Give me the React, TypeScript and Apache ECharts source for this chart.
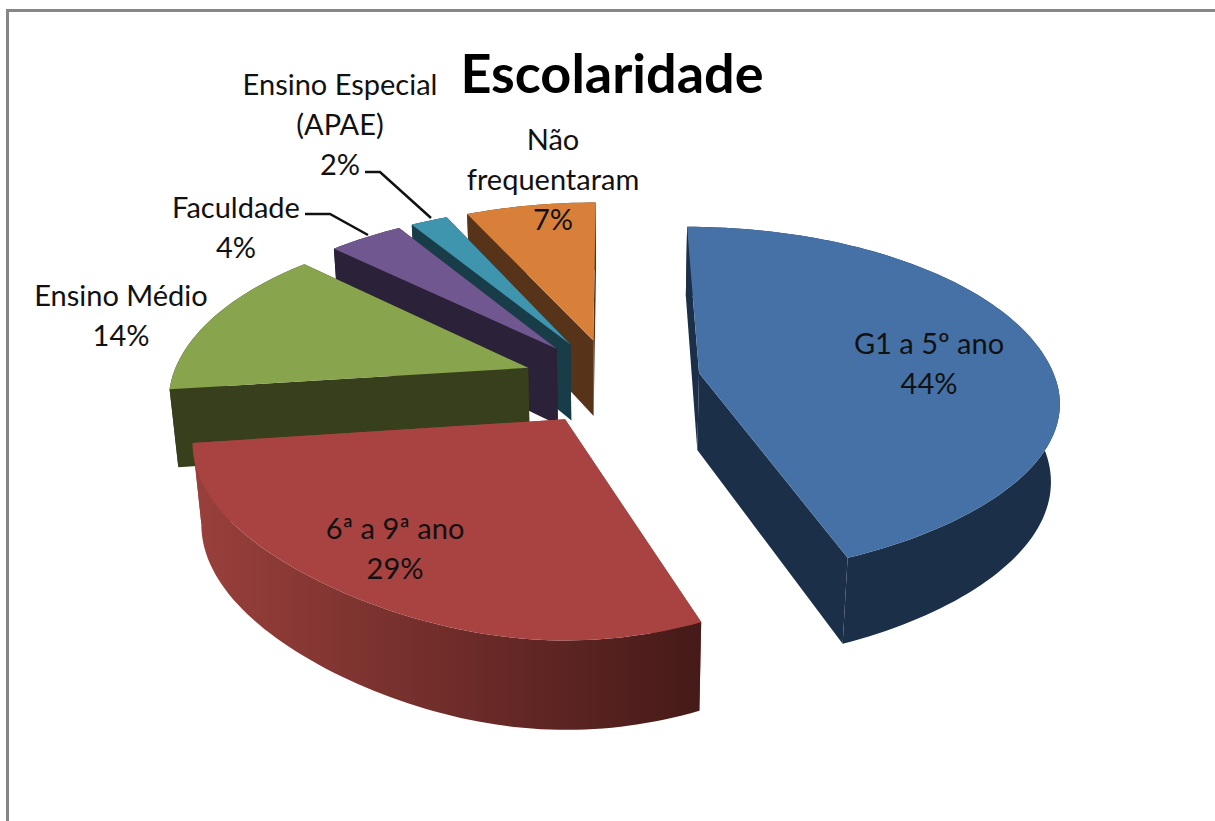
import React, { useEffect, useRef } from "react";
import * as echarts from "echarts";

const categories = ["G1 a 5º ano", "6ª a 9ª ano", "Ensino Médio", "Faculdade", "Ensino Especial\n(APAE)", "Não\nfrequentaram"];
const percents = [44, 29, 14, 4, 2, 7];
const titleText = "Escolaridade";

const topColors = ["#4671a6", "#a84341", "#88a44d", "#71578f", "#3f94ae", "#d8803a"];
const wallColors = ["#1b2f49", "#9a403c", "#373f1c", "#2b2139", "#193c49", "#57331a"];
const rimLeft = ["#1b2f49", "#9a403c", "#373f1c", "#2b2139", "#193c49", "#57331a"];
const rimRight = ["#1b2f49", "#451a18", "#373f1c", "#2b2139", "#193c49", "#57331a"];
const labelAnchors = [[929, 362], [395, 547], [121, 314], [236, 226], [340, 123], [553, 178]];

const P = { cx: 612, cy: 381, A: 357, B: 172, k: 0.16, c: 0.06, d: 0.04, m: 0.02, D: 79, e: 0.25 };

function project(X: number, Y: number, Z: number) {
  const s = 1 / (1 + P.k * Y + P.m * Z);
  const near = Y < 0 ? P.c * Y * Y + P.d * Y * Y * Y * Y : 0;
  const sx = 1 / (1 + P.k * Y + near + P.m * Z);
  return [P.cx + P.A * X * sx, P.cy + (-P.B * Y + P.D * Z) * s];
}

function renderSlice(params: any, api: any) {
  const i = params.dataIndex;
  const total = percents.reduce((a, b) => a + b, 0);
  const before = percents.slice(0, i).reduce((a, b) => a + b, 0);
  const a0 = (before / total) * Math.PI * 2;
  const a1 = ((before + api.value(0)) / total) * Math.PI * 2;
  const mid = (a0 + a1) / 2;
  const ox = P.e * Math.sin(mid);
  const oy = P.e * Math.cos(mid);
  const steps = Math.max(6, Math.round((a1 - a0) * 40));
  const arcTop: number[][] = [];
  const arcBot: number[][] = [];
  for (let j = 0; j <= steps; j++) {
    const t = a0 + ((a1 - a0) * j) / steps;
    const X = ox + Math.sin(t);
    const Y = oy + Math.cos(t);
    arcTop.push(project(X, Y, 0));
    arcBot.push(project(X, Y, 1));
  }
  const apexTop = project(ox, oy, 0);
  const apexBot = project(ox, oy, 1);
  const xs = arcTop.map((p) => p[0]).concat(arcBot.map((p) => p[0]));
  const rimFill = new echarts.graphic.LinearGradient(
    Math.min(...xs), 0, Math.max(...xs), 0,
    [{ offset: 0, color: rimLeft[i] }, { offset: 1, color: rimRight[i] }],
    true
  );
  const base = (6 - i) * 10;
  const poly = (points: number[][], fill: any, z2: number) => ({
    type: "polygon", z2, shape: { points }, style: { fill, stroke: "none" },
  });
  const lines = [categories[i], `${api.value(0)}%`].join("\n");
  return {
    type: "group",
    children: [
      poly([apexTop, arcTop[0], arcBot[0], apexBot], wallColors[i], base),
      poly([apexTop, arcTop[steps], arcBot[steps], apexBot], wallColors[i], base + 1),
      poly([...arcTop, ...arcBot.slice().reverse()], rimFill, base + 2),
      poly([apexTop, ...arcTop], topColors[i], base + 3),
      {
        type: "text", z2: 200,
        x: labelAnchors[i][0], y: labelAnchors[i][1],
        style: {
          text: lines, fill: "#111111", fontFamily: "Lato", fontSize: 29,
          lineHeight: 40, align: "center", verticalAlign: "middle",
        },
      },
    ],
  };
}

export default function App() {
  const ref = useRef<HTMLDivElement>(null);
  useEffect(() => {
    document.body.style.margin = "0";
    const chart = echarts.init(ref.current!, undefined, { renderer: "svg" });
    chart.setOption({
      animation: false,
      backgroundColor: "#ffffff",
      title: {
        text: titleText, left: 607, top: 40, textAlign: "center",
        textStyle: { fontFamily: "Lato", fontWeight: "bold", fontSize: 54, color: "#000000" },
      },
      graphic: [
        { type: "polyline", z: 1, shape: { points: [[7.5, 821], [7.5, 10.5], [1215, 10.5]] }, style: { stroke: "#868686", lineWidth: 3, fill: "none" } },
        { type: "polyline", z: 10, shape: { points: [[305, 214], [330, 214], [368, 235]] }, style: { stroke: "#111111", lineWidth: 2.5, fill: "none" } },
        { type: "polyline", z: 10, shape: { points: [[365, 172], [380, 172], [431, 218]] }, style: { stroke: "#111111", lineWidth: 2.5, fill: "none" } },
      ],
      series: [{
        type: "custom",
        coordinateSystem: "none",
        renderItem: renderSlice,
        data: percents.map((v, i) => ({ name: categories[i], value: [v] })),
      }],
    });
    return () => chart.dispose();
  }, []);
  return <div ref={ref} style={{ width: 1215, height: 821 }} />;
}
